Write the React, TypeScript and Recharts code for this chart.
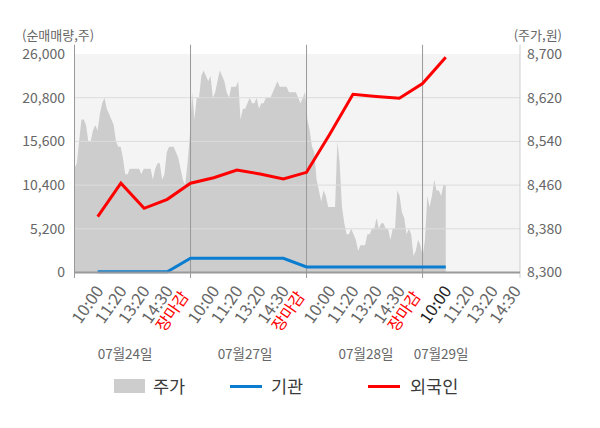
import {
  ComposedChart,
  Area,
  Line,
  XAxis,
  YAxis,
  CartesianGrid,
  ReferenceLine,
  Legend,
} from 'recharts';

const FONT = "'Noto Sans CJK KR', 'Noto Sans', sans-serif";

// x axis: one step per tick label, 5 per trading day
const timeLabels = [
  '10:00', '11:20', '13:20', '14:30', '장마감',
  '10:00', '11:20', '13:20', '14:30', '장마감',
  '10:00', '11:20', '13:20', '14:30', '장마감',
  '10:00', '11:20', '13:20', '14:30',
];
const dayLabels = ['07월24일', '07월27일', '07월28일', '07월29일'];
const dayLabelAt = [2.18, 7.35, 12.56, 15.8];
const closeAt = [5, 10, 15];

const volTicks = [0, 5200, 10400, 15600, 20800, 26000];
const priceTicks = [8300, 8380, 8460, 8540, 8620, 8700];

// net buying (cumulative), one value per step
const lineSteps = [1, 2, 3, 4, 5, 6, 7, 8, 9, 10, 11, 12, 13, 14, 15, 16];
const foreignNet = [
  6640, 10620, 7640, 8710, 10620, 11280, 12200, 11720,
  11130, 11920, 16450, 21210, 20940, 20730, 22490, 25610,
];
const instNet = [
  80, 80, 80, 80, 1690, 1690, 1690, 1690,
  1690, 655, 655, 655, 655, 655, 655, 655,
];

// intraday price, 07/24 open to 07/29 10:00
const prices = [
  8490, 8500, 8540, 8580, 8580, 8570, 8540, 8540, 8560, 8570,
  8560, 8590, 8610, 8620, 8600, 8590, 8580, 8570, 8540, 8530,
  8530, 8510, 8480, 8480, 8490, 8490, 8490, 8490, 8490, 8480,
  8490, 8490, 8490, 8490, 8470, 8490, 8500, 8500, 8470, 8480,
  8520, 8530, 8530, 8530, 8520, 8510, 8490, 8470, 8460, 8500,
  8550, 8630, 8580, 8620, 8620, 8660, 8670, 8660, 8650, 8660,
  8620, 8630, 8650, 8670, 8660, 8650, 8630, 8620, 8640, 8640,
  8640, 8650, 8580, 8600, 8600, 8610, 8620, 8610, 8610, 8620,
  8600, 8610, 8610, 8620, 8620, 8620, 8630, 8640, 8650, 8640,
  8640, 8640, 8640, 8630, 8630, 8630, 8630, 8620, 8610, 8620,
  8630, 8580, 8560, 8530, 8520, 8470, 8450, 8430, 8450, 8440,
  8420, 8420, 8420, 8420, 8540, 8500, 8420, 8390, 8370, 8370,
  8380, 8370, 8360, 8340, 8350, 8350, 8350, 8370, 8370, 8380,
  8380, 8400, 8380, 8390, 8390, 8380, 8380, 8360, 8380, 8380,
  8450, 8440, 8410, 8400, 8370, 8380, 8370, 8330, 8340, 8360,
  8350, 8330, 8360, 8440, 8420, 8440, 8470, 8450, 8450, 8440,
  8460, 8460,
];

const lastStep = lineSteps[lineSteps.length - 1];
const priceRows = prices.map((price, i) => ({ s: (i * lastStep) / (prices.length - 1), price }));
const foreignRows = lineSteps.map((s, i) => ({ s, v: foreignNet[i] }));
const instRows = lineSteps.map((s, i) => ({ s, v: instNet[i] }));
const axisTicks = [...timeLabels.map((_, i) => i + 1), ...dayLabelAt].sort((a, b) => a - b);

const X_MAX = 19.2;
const GUIDE_TOP = 27100;
const GUIDE_BOTTOM = -650;

const fmt = (v: number) => v.toLocaleString('en-US');

function AxisTick({ x, y, payload }: any) {
  const dayIdx = dayLabelAt.indexOf(payload.value);
  if (dayIdx >= 0) {
    return (
      <text x={x} y={y + 86.5} textAnchor="middle" fontSize={13.5} fontFamily={FONT} fill="#666">
        {dayLabels[dayIdx]}
      </text>
    );
  }
  const label = timeLabels[payload.value - 1];
  const isClose = label === '장마감';
  let color = '#666';
  if (isClose) color = '#ff0000';
  else if (payload.value === lastStep) color = '#222';
  const dx = isClose ? -1 : 6.5;
  const dy = isClose ? 24 : 18.5;
  return (
    <g transform={`translate(${x + dx},${y + dy})`}>
      <text
        textAnchor="end"
        transform="rotate(-55)"
        fontSize={isClose ? 16 : 16.5}
        fontFamily={FONT}
        fill={color}
      >
        {label}
      </text>
    </g>
  );
}

function ChartLegend() {
  const text = { position: 'absolute' as const, top: 0, fontSize: 17.5, lineHeight: '28px', color: '#3a3a3a' };
  return (
    <div style={{ position: 'relative', width: 600, height: 28, fontFamily: FONT }}>
      <span style={{ position: 'absolute', left: 114, top: 7, width: 31, height: 14, background: '#cdcdcd' }} />
      <span style={{ ...text, left: 153 }}>주가</span>
      <span style={{ position: 'absolute', left: 230, top: 13, width: 32, height: 3, background: '#0a7dd0' }} />
      <span style={{ ...text, left: 271 }}>기관</span>
      <span style={{ position: 'absolute', left: 368, top: 13, width: 32, height: 3, background: '#ff0000' }} />
      <span style={{ ...text, left: 410 }}>외국인</span>
    </div>
  );
}

export default function App() {
  return (
    <div style={{ position: 'absolute', left: 0, top: 0, fontFamily: FONT }}>
      <ComposedChart width={600} height={428} data={priceRows} margin={{ top: 54, right: 0, bottom: 0, left: 0 }}>
        <CartesianGrid fill="#f4f4f4" stroke="none" horizontal={false} vertical={false} yAxisId="vol" xAxisId="t" />
        <XAxis
          xAxisId="t"
          type="number"
          dataKey="s"
          domain={[0, X_MAX]}
          allowDataOverflow
          ticks={axisTicks}
          interval={0}
          tick={<AxisTick />}
          tickSize={0}
          tickMargin={0}
          tickLine={false}
          axisLine={{ stroke: '#999', strokeWidth: 2 }}
          height={155.5}
        />
        <YAxis
          yAxisId="vol"
          width={74.5}
          domain={[0, 26000]}
          ticks={volTicks}
          interval={0}
          tickFormatter={fmt}
          axisLine={false}
          tickLine={false}
          tickSize={0}
          tickMargin={9.5}
          tick={{ fill: '#666', fontSize: 14, fontFamily: FONT }}
          label={{
            content: () => (
              <text x={22} y={39.5} fill="#666" fontSize={13} fontFamily={FONT}>
                (순매매량,주)
              </text>
            ),
          }}
        />
        <YAxis
          yAxisId="price"
          orientation="right"
          width={80}
          domain={[8300, 8700]}
          ticks={priceTicks}
          interval={0}
          tickFormatter={fmt}
          axisLine={false}
          tickLine={false}
          tickSize={0}
          tickMargin={7}
          tick={{ fill: '#666', fontSize: 14, fontFamily: FONT }}
          label={{
            content: () => (
              <text x={562} y={39.5} textAnchor="end" fill="#666" fontSize={13} fontFamily={FONT}>
                (주가,원)
              </text>
            ),
          }}
        />

        <Area
          xAxisId="t"
          yAxisId="price"
          dataKey="price"
          name="주가"
          type="linear"
          stroke="none"
          fill="#cdcdcd"
          fillOpacity={1}
          baseValue="dataMin"
          isAnimationActive={false}
        />

        {volTicks.slice(1, -1).map((v) => (
          <ReferenceLine key={v} xAxisId="t" yAxisId="vol" y={v} stroke="#dcdcdc" strokeWidth={1} />
        ))}
        {closeAt.map((s) => (
          <ReferenceLine
            key={s}
            xAxisId="t"
            yAxisId="vol"
            ifOverflow="visible"
            segment={[{ x: s, y: GUIDE_BOTTOM }, { x: s, y: GUIDE_TOP }]}
            stroke="#999"
            strokeWidth={1}
          />
        ))}
        <ReferenceLine
          xAxisId="t"
          yAxisId="vol"
          ifOverflow="visible"
          segment={[{ x: 0, y: GUIDE_BOTTOM }, { x: 0, y: GUIDE_TOP }]}
          stroke="#999"
          strokeWidth={1}
        />
        <ReferenceLine
          xAxisId="t"
          yAxisId="vol"
          ifOverflow="visible"
          segment={[{ x: X_MAX, y: GUIDE_BOTTOM }, { x: X_MAX, y: GUIDE_TOP }]}
          stroke="#cfcfcf"
          strokeWidth={1}
        />

        <Line
          xAxisId="t"
          yAxisId="vol"
          data={instRows}
          dataKey="v"
          name="기관"
          type="linear"
          stroke="#0a7dd0"
          strokeWidth={3}
          dot={false}
          activeDot={false}
          isAnimationActive={false}
        />
        <Line
          xAxisId="t"
          yAxisId="vol"
          data={foreignRows}
          dataKey="v"
          name="외국인"
          type="linear"
          stroke="#ff0000"
          strokeWidth={3}
          dot={false}
          activeDot={false}
          isAnimationActive={false}
        />

        <Legend
          layout="horizontal"
          verticalAlign="middle"
          align="center"
          wrapperStyle={{ top: 372, left: 0, width: 600 }}
          content={() => <ChartLegend />}
        />
      </ComposedChart>
    </div>
  );
}
